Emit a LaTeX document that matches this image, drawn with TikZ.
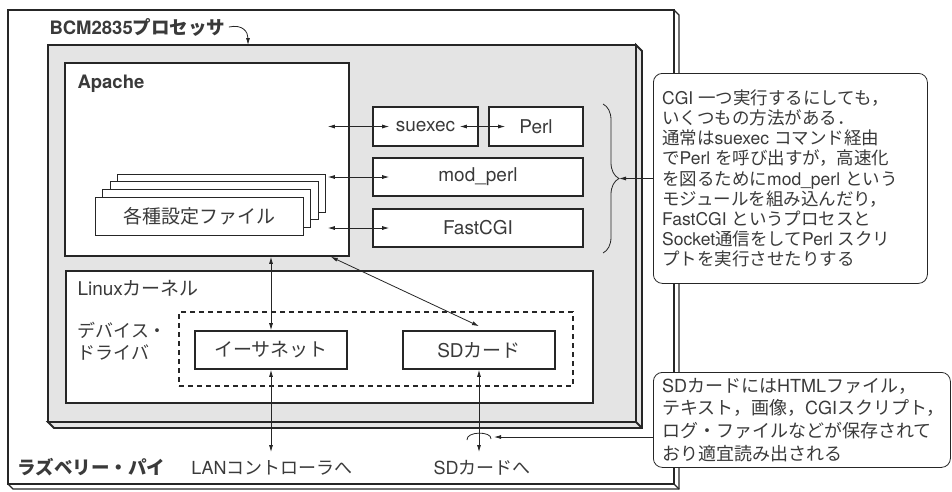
\documentclass[tikz,border=0pt]{standalone}
\usepackage{fontspec}
\usepackage{tikz}
\usetikzlibrary{arrows.meta}
\usetikzlibrary{decorations.pathreplacing}
\setmainfont{TeX Gyre Heros}
\newfontfamily\jpfont{Noto Sans CJK JP}
% kana and kanji go to the Japanese font by themselves
\XeTeXinterchartokenstate=1
\newXeTeXintercharclass\jpclass
\newcount\jpcode
\def\jprange#1#2{\jpcode=#1 \loop\ifnum\jpcode<#2 \XeTeXcharclass\jpcode=\jpclass \advance\jpcode by 1 \repeat}
\jprange{"3000}{"3100}
\jprange{"4E00}{"A000}
\jprange{"FF00}{"FFF0}
\XeTeXinterchartoks 0 \jpclass = {\jpfont}
\XeTeXinterchartoks 4095 \jpclass = {\jpfont}
\XeTeXinterchartoks \jpclass 0 = {\rmfamily}
\XeTeXinterchartoks \jpclass 4095 = {\rmfamily}
\XeTeXinterchartoks 4095 0 = {\rmfamily}
\definecolor{ink}{HTML}{3A3A3A}
\definecolor{linec}{HTML}{262626}
\definecolor{panel}{HTML}{E4E4E4}
\def\txt{\fontsize{19}{22}\selectfont}

\begin{document}
\begin{tikzpicture}[x=1pt, y=-1pt,
  every node/.style={font=\txt, text=ink},
  bold/.style={font=\bfseries\fontsize{18.5}{22}\selectfont},
  box/.style={draw=linec, line width=1.6pt, fill=white, inner sep=0pt},
  filebox/.style={draw=linec, line width=0.8pt, fill=white},
  slab/.style={draw=linec, line width=1.2pt},
  chip/.style={draw=linec, line width=1.8pt, fill=panel},
  biarrow/.style={{Latex[length=7pt,width=4pt]}-{Latex[length=7pt,width=4pt]}, draw=linec, line width=0.8pt},
  onearrow/.style={-{Latex[length=7pt,width=4pt]}, draw=linec, line width=0.8pt},
  note/.style={draw=linec, line width=0.8pt, rounded corners=9pt, fill=white,
    anchor=north west, inner sep=0pt},
  notetext/.style={align=left, anchor=west, inner sep=0pt}]

  \useasboundingbox (0,0) rectangle (952,491);

  % the board
  \draw[slab, fill=white] (8,10) rectangle (674,484);
  \draw[slab] (674,10) -- (679,15) -- (679,489) -- (13,489) -- (8,484);
  \draw[slab] (674,484) -- (679,489);

  % the processor
  \draw[chip] (636,45) -- (642,51) -- (642,428) -- (54,428) -- (48,422) -- (636,422) -- cycle;
  \draw[chip] (48,45) rectangle (636,422);
  \draw[chip] (636,422) -- (642,428);
  \coordinate (chiptop) at (248,45);

  \node[bold, anchor=west] (bcm) at (46,27) {BCM2835プロセッサ};
  \draw[onearrow] (bcm.east) .. controls (243,24) and (248,32) .. (chiptop);

  % Apache
  \node[box, minimum width=284pt, minimum height=193pt] (apache) at (207,159.5) {};
  \node[bold, anchor=west] (apachelbl) at (74,84) {Apache};

  \node[box, minimum width=105pt, minimum height=39pt] (suexec) at (425.5,126.5) {suexec};
  \node[box, minimum width=94pt, minimum height=39pt] (perl) at (536,126.5) {Perl};
  \node[box, minimum width=210pt, minimum height=38pt] (modperl) at (478,177) {mod\_perl};
  \node[box, minimum width=210pt, minimum height=38pt] (fastcgi) at (478,228) {FastCGI};

  \foreach \i in {3,2,1}
    \draw[filebox] ({95+7.6*\i},{197-7.6*\i}) rectangle ++(208,38);
  \node[filebox, minimum width=208pt, minimum height=38pt] (conf) at (199,216) {各種設定ファイル};

  \coordinate (apin) at ([xshift=-22pt]apache.east);
  \draw[biarrow] (apin |- suexec) -- ([xshift=17pt]suexec.west);
  \draw[biarrow] ([xshift=-19pt]suexec.east) -- ([xshift=17pt]perl.west);
  \draw[biarrow] (apin |- modperl) -- ([xshift=17pt]modperl.west);
  \draw[biarrow] (apin |- fastcgi) -- ([xshift=17pt]fastcgi.west);

  % Linux kernel
  \node[box, minimum width=527pt, minimum height=132pt] (kernel) at (329.5,337) {};
  \node[anchor=west] (kernellbl) at (74,288) {Linuxカーネル};
  \node[draw=linec, line width=1.4pt, dash pattern=on 5pt off 4pt,
    minimum width=394pt, minimum height=74pt] (drv) at (376,349) {};
  \node[anchor=west, align=left, font=\fontsize{18}{22}\selectfont] (drvlbl) at (74,341) {デバイス・\\ドライバ};
  \node[box, minimum width=152pt, minimum height=38pt] (ether) at (271,350) {イーサネット};
  \node[box, minimum width=152pt, minimum height=38pt] (sd) at (479,350) {SDカード};

  \draw[biarrow] (apache.south -| ether) -- (ether.north);
  \draw[biarrow] ([xshift=-19pt]apache.south east) -- ([yshift=4pt]sd.north);

  % to the outside
  \coordinate (lanend) at (271,452);
  \coordinate (sdend) at (479,452);
  \draw[biarrow] (ether.south) -- (lanend);
  \draw[biarrow] (sd.south) -- (sdend);
  \node[font=\fontsize{18}{22}\selectfont] (lan) at (272,468) {LANコントローラへ};
  \node[font=\fontsize{18}{22}\selectfont] (sdout) at (482,468) {SDカードへ};
  \node[bold, anchor=west] (rpi) at (14,467) {ラズベリー・パイ};

  \draw[draw=linec, line width=0.8pt] (467,440) .. controls (466,431) and (492,431) .. (491,439);
  \coordinate (rot) at (494,437);

  % notes
  \draw[decorate, decoration={brace, amplitude=16pt}, draw=linec, line width=0.8pt] (603,104) -- (603,253);
  \coordinate (bracetip) at (619,178.5);

  \node[note, minimum width=274pt, minimum height=210pt] (why) at (653,73) {};
  \node[notetext, font=\fontsize{17.5}{20.1}\selectfont] (whytxt) at ([xshift=9pt]why.west)
    {CGI 一つ実行するにしても，\\
     いくつもの方法がある．\\
     通常はsuexec コマンド経由\\
     でPerl を呼び出すが，高速化\\
     を図るためにmod\_perl という\\
     モジュールを組み込んだり，\\
     FastCGI というプロセスと\\
     Socket通信をしてPerl スクリ\\
     プトを実行させたりする};
  \draw[onearrow] (why.west) -- (bracetip);

  \node[note, minimum width=297pt, minimum height=95pt] (card) at (653,372) {};
  \node[notetext, font=\fontsize{18}{22.7}\selectfont] (cardtxt) at ([xshift=9pt]card.west)
    {SDカードにはHTMLファイル，\\
     テキスト，画像，CGIスクリプト，\\
     ログ・ファイルなどが保存されて\\
     おり適宜読み出される};
  \draw[onearrow] (card.west |- rot) -- (rot);

\end{tikzpicture}
\end{document}
